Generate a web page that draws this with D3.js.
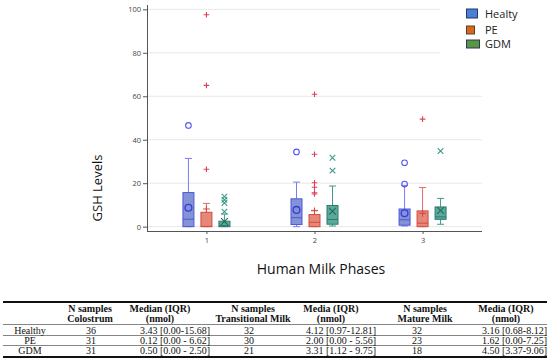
<!DOCTYPE html>
<html><head><meta charset="utf-8">
<script src="https://cdn.jsdelivr.net/npm/d3@7"></script>
<style>body{margin:0;background:#fff}svg{display:block}</style>
</head><body>
<svg id="c" width="550" height="364"></svg>
<script>
// ---------- data ----------
const phases = [1, 2, 3];
const yTicks = [0, 20, 40, 60, 80, 100];
const seriesNames = ["Healty", "PE", "GDM"];

// [whiskerLow, Q1, median, Q3, whiskerHigh, mean] per phase
const healthyStats = [[0.00, 0.00, 3.43, 15.68, 31.4, 8.7], [0.00, 0.97, 4.12, 12.81, 20.5, 7.7], [0.30, 0.68, 3.16, 8.12, 19.0, 6.2]];
const peStats      = [[0.00, 0.00, 0.12, 6.62, 10.7, 8.1], [0.00, 0.00, 2.00, 5.56, 7.5, 7.3], [0.00, 0.00, 1.62, 7.25, 18.0, 6.1]];
const gdmStats     = [[0.00, 0.00, 0.50, 2.50, 5.8, 2.4], [0.30, 1.12, 3.31, 9.75, 18.7, 7.1], [1.10, 3.37, 4.50, 9.06, 13.0, 7.4]];

const healthyOutliers = [[46.6], [34.4], [19.6, 29.4]];
const peOutliers      = [[26.4, 65.0, 97.5], [15.0, 15.6, 18.1, 20.2, 33.3, 60.9], [49.5]];
const gdmOutliers     = [[6.9, 10.9, 12.3, 13.8], [25.8, 31.7], [34.8]];

// table
const tableRowLabels = ["Healthy", "PE", "GDM"];
const nColostrum = ["36", "31", "31"];
const iqrColostrum = ["3.43 [0.00-15.68]", "0.12 [0.00 - 6.62]", "0.50 [0.00 - 2.50]"];
const nTransitional = ["32", "30", "21"];
const iqrTransitional = ["4.12 [0.97-12.81]", "2.00 [0.00 - 5.56]", "3.31 [1.12 - 9.75]"];
const nMature = ["32", "23", "18"];
const iqrMature = ["3.16 [0.68-8.12]", "1.62 [0.00-7.25]", "4.50 [3.37-9.06]"];
const headerLine1 = ["N samples", "Median (IQR)", "N samples", "Media (IQR)", "N samples", "Media (IQR)"];
const headerLine2 = ["Colostrum", "(nmol)", "Transitional Milk", "(nmol)", "Mature Milk", "(nmol)"];

// ---------- styles ----------
const series = [
  {name: "Healty", stats: healthyStats, outliers: healthyOutliers, fill: "#6f80cc", stroke: "#4a57dc", whisk: "#7c7cf2", marker: "circle", mcol: "#5656ee", off: -18},
  {name: "PE", stats: peStats, outliers: peOutliers, fill: "#e2735f", stroke: "#d44a44", whisk: "#e06a6a", marker: "plus", mcol: "#e0405a", off: 0},
  {name: "GDM", stats: gdmStats, outliers: gdmOutliers, fill: "#3f9a8a", stroke: "#2b7a6c", whisk: "#3f9a8a", marker: "cross", mcol: "#3a9a88", off: 18}
];
const legendColors = [
  {fill: "#4a7fd6", stroke: "#27376a", w: 11, h: 9},
  {fill: "#d8661c", stroke: "#5a4030", w: 8, h: 8},
  {fill: "#5a9640", stroke: "#27376a", w: 13, h: 8}
];

const svg = d3.select("#c");
const x = d3.scaleLinear().domain([0.45, 3.55]).range([147, 482]);
const y = d3.scaleLinear().domain([-2, 102]).range([231, 5]);

// gridlines
svg.append("g").selectAll("line").data(yTicks).join("line")
  .attr("x1", 148).attr("x2", 482)
  .attr("y1", d => y(d)).attr("y2", d => y(d))
  .attr("stroke", "#e8e8e8").attr("stroke-width", 1);

// axes
const yAxis = svg.append("g").attr("transform", "translate(147,0)")
  .call(d3.axisLeft(y).tickValues(yTicks).tickSize(4).tickPadding(2));
const xAxis = svg.append("g").attr("transform", "translate(0,231)")
  .call(d3.axisBottom(x).tickValues(phases).tickSize(3).tickPadding(4).tickFormat(d3.format("d")));
[yAxis, xAxis].forEach(a => {
  a.select(".domain").attr("stroke", "#555");
  a.selectAll(".tick line").attr("stroke", "#555");
  a.selectAll("text").attr("font-family", "Open Sans, sans-serif").attr("font-size", "7.5px").attr("fill", "#444");
});
yAxis.select(".domain").attr("d", "M0.5," + y(102) + "V" + y(-2));
xAxis.select(".domain").attr("d", "M147,0.5H482");

// boxes
const bw = 11, cap = 7;
series.forEach(s => {
  const g = svg.append("g");
  s.stats.forEach((st, i) => {
    const cx = x(phases[i]) + s.off;
    const [lo, q1, med, q3, hi, mean] = st;
    // whiskers
    g.append("line").attr("x1", cx).attr("x2", cx).attr("y1", y(q3)).attr("y2", y(hi)).attr("stroke", s.whisk).attr("stroke-width", 1);
    g.append("line").attr("x1", cx).attr("x2", cx).attr("y1", y(q1)).attr("y2", y(lo)).attr("stroke", s.whisk).attr("stroke-width", 1);
    g.append("line").attr("x1", cx - cap / 2).attr("x2", cx + cap / 2).attr("y1", y(hi)).attr("y2", y(hi)).attr("stroke", s.whisk);
    g.append("line").attr("x1", cx - cap / 2).attr("x2", cx + cap / 2).attr("y1", y(lo)).attr("y2", y(lo)).attr("stroke", s.whisk);
    // box
    g.append("rect").attr("x", cx - bw / 2).attr("width", bw)
      .attr("y", y(q3)).attr("height", Math.max(1, y(q1) - y(q3)))
      .attr("fill", s.fill).attr("fill-opacity", 0.85).attr("stroke", s.stroke).attr("stroke-width", 1);
    g.append("line").attr("x1", cx - bw / 2).attr("x2", cx + bw / 2).attr("y1", y(med)).attr("y2", y(med)).attr("stroke", s.stroke).attr("stroke-width", 1);
    // markers
    const drawMarker = (v, big) => {
      const cy = y(v), r = big ? 3.4 : 2.8;
      const col = big && s.marker !== "circle" ? s.stroke : s.mcol;
      if (s.marker === "circle") {
        g.append("circle").attr("cx", cx).attr("cy", cy).attr("r", r).attr("fill", "none").attr("stroke", big ? "#3a3ad8" : s.mcol).attr("stroke-width", big ? 1.3 : 1.1);
      } else if (s.marker === "plus") {
        g.append("path").attr("d", `M${cx - r},${cy}H${cx + r}M${cx},${cy - r}V${cy + r}`).attr("stroke", col).attr("stroke-width", 1.1);
      } else {
        g.append("path").attr("d", `M${cx - r},${cy - r}L${cx + r},${cy + r}M${cx - r},${cy + r}L${cx + r},${cy - r}`).attr("stroke", big ? "#236a5c" : col).attr("stroke-width", 1.1);
      }
    };
    s.outliers[i].forEach(v => drawMarker(v, false));
    drawMarker(mean, true);
  });
});

// legend
svg.append("rect").attr("x", 440).attr("y", 0).attr("width", 110).attr("height", 58).attr("fill", "#fff");
const lg = svg.append("g");
const legendY = [13.5, 30, 44];
seriesNames.forEach((n, i) => {
  const c = legendColors[i];
  lg.append("rect").attr("x", 466.5).attr("y", legendY[i] - c.h / 2).attr("width", c.w).attr("height", c.h)
    .attr("fill", c.fill).attr("stroke", c.stroke).attr("stroke-width", 1);
  lg.append("text").attr("x", 485).attr("y", legendY[i] + 4).text(n)
    .attr("font-family", "Open Sans, sans-serif").attr("font-size", "11px").attr("fill", "#222");
});

// axis titles
svg.append("text").attr("transform", "translate(102,188) rotate(-90)").attr("text-anchor", "middle")
  .attr("font-family", "Open Sans, sans-serif").attr("font-size", "13px").attr("fill", "#111").text("GSH Levels");
svg.append("text").attr("x", 321).attr("y", 274).attr("text-anchor", "middle")
  .attr("font-family", "Open Sans, sans-serif").attr("font-size", "14px").attr("fill", "#111").text("Human Milk Phases");

// table
const tg = svg.append("g").attr("font-family", "Liberation Serif, Times New Roman, serif").attr("font-size", "10px").attr("fill", "#111");
tg.append("line").attr("x1", 3).attr("x2", 547).attr("y1", 302).attr("y2", 302).attr("stroke", "#111").attr("stroke-width", 2);
tg.append("line").attr("x1", 3).attr("x2", 547).attr("y1", 324.5).attr("y2", 324.5).attr("stroke", "#666").attr("stroke-width", 0.8);
tg.append("line").attr("x1", 3).attr("x2", 547).attr("y1", 335.5).attr("y2", 335.5).attr("stroke", "#666").attr("stroke-width", 0.8);
tg.append("line").attr("x1", 3).attr("x2", 547).attr("y1", 345.5).attr("y2", 345.5).attr("stroke", "#666").attr("stroke-width", 0.8);
tg.append("line").attr("x1", 3).attr("x2", 547).attr("y1", 357).attr("y2", 357).attr("stroke", "#111").attr("stroke-width", 2);
const headerX = [90, 160, 253, 331, 425, 506];
headerLine1.forEach((t, i) => tg.append("text").attr("x", headerX[i]).attr("y", 312).attr("text-anchor", "middle").attr("font-weight", "bold").text(t));
headerLine2.forEach((t, i) => tg.append("text").attr("x", headerX[i]).attr("y", 322).attr("text-anchor", "middle").attr("font-weight", "bold").text(t));
const rowY = [333.5, 343.5, 354];
tableRowLabels.forEach((t, r) => {
  tg.append("text").attr("x", 30).attr("y", rowY[r]).attr("text-anchor", "middle").text(t);
  tg.append("text").attr("x", 91).attr("y", rowY[r]).attr("text-anchor", "middle").text(nColostrum[r]);
  tg.append("text").attr("x", 140).attr("y", rowY[r]).text(iqrColostrum[r]);
  tg.append("text").attr("x", 249).attr("y", rowY[r]).attr("text-anchor", "middle").text(nTransitional[r]);
  tg.append("text").attr("x", 306).attr("y", rowY[r]).text(iqrTransitional[r]);
  tg.append("text").attr("x", 417).attr("y", rowY[r]).attr("text-anchor", "middle").text(nMature[r]);
  tg.append("text").attr("x", 482).attr("y", rowY[r]).text(iqrMature[r]);
});
</script>
</body></html>
